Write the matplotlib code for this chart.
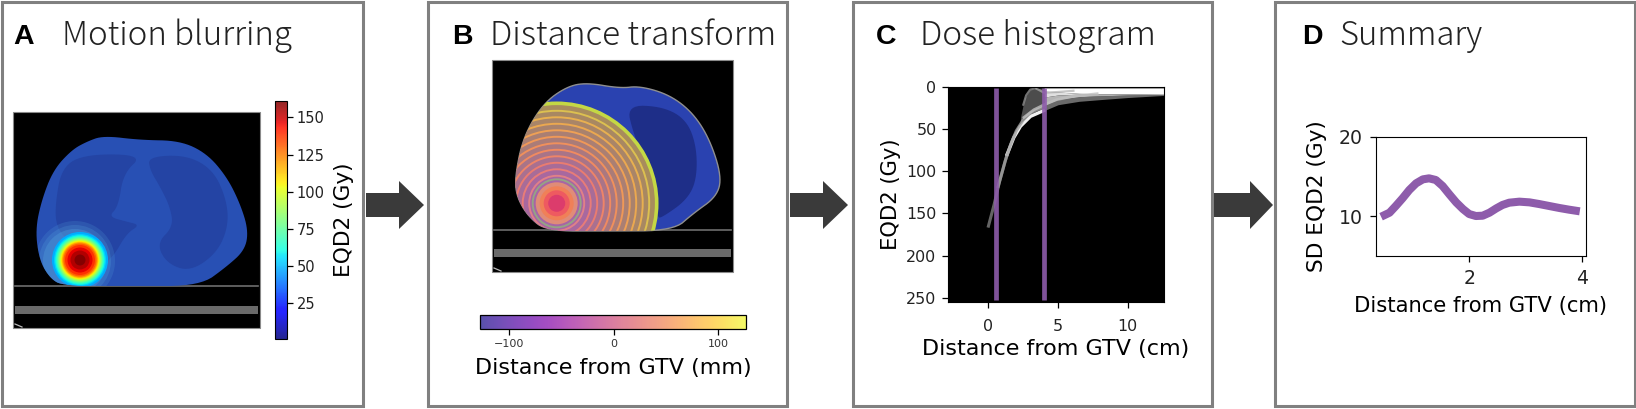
#!/usr/bin/env python3
"""Four step workflow figure: motion blurring, distance transform, dose histogram, summary"""

import numpy as np
import matplotlib
matplotlib.use('Agg')
import matplotlib.pyplot as plt
from matplotlib.patches import Polygon, Circle, Rectangle
from matplotlib.colors import Normalize, LinearSegmentedColormap
from matplotlib.cm import ScalarMappable

W, H = 1636, 409

# outlines at 3x zoom
A_BODY = [(190, 858), (150, 835), (118, 780), (106, 690), (125, 600), (160, 510), (215, 450), (260, 425), (310, 407),
          (420, 420), (540, 422), (620, 460), (680, 530), (720, 610), (745, 690), (735, 750), (680, 800), (600, 858),
          (400, 858)]
A_LUNG_L = [(165, 620), (185, 500), (260, 462), (430, 465), (370, 520), (355, 620), (325, 650), (380, 665), (420, 675),
            (380, 700), (340, 770), (300, 800), (200, 720), (170, 680)]
A_LUNG_R = [(445, 470), (560, 465), (640, 510), (680, 600), (685, 680), (650, 760), (570, 815), (500, 790), (470, 730),
            (520, 680), (510, 620), (480, 560), (450, 510)]
B_BODY = [(440, 693), (385, 650), (350, 590), (345, 530), (370, 410), (430, 310), (500, 260), (560, 248), (660, 265),
          (720, 258), (810, 285), (880, 340), (930, 420), (965, 530), (950, 590), (880, 640), (820, 692), (620, 693)]
B_LUNG = [(680, 315), (790, 320), (860, 360), (890, 440), (890, 540), (860, 600), (790, 650), (770, 655), (770, 550),
          (740, 500), (700, 400)]

# panel A hot spot
spot_dose = [48, 54, 60, 66, 74, 82, 90, 98, 106, 114, 122, 130, 138, 146, 154, 160]
spot_radius = [28, 26, 24.8, 23.8, 22.8, 21.8, 20.8, 19.8, 19, 18.2, 17.4, 16.4, 15, 12.5, 9.5, 5.5]
dose_ticks = [25, 50, 75, 100, 125, 150]

# panel B rings
ring_radius = [100, 92.5, 86, 79.5, 73, 66.5, 60, 53.5, 47, 40.5, 34, 27.5, 24]
ring_color = ['#c4d844', '#dcc050', '#e8b050', '#eba850', '#eea055', '#ef9858', '#f0905c', '#f08a60', '#ee8468',
              '#ea7c70', '#e87c78', '#e08088', '#94a484']
core_radius = [21, 17, 13, 8.5]
core_color = ['#e08c78', '#f08058', '#ee5a60', '#dc3c6c']
dist_ticks = [-100, 0, 100]

# panel C histogram, the bright band and the grey shoulder under it
band_x = [4, 5, 6.5, 8, 10, 12.6]
band_top = [1, 1, 1, 1, 1, 1]
band_low = [5, 6, 7.5, 8, 8, 8.5]
shoulder_in = [12, 9.5, 8.5, 8.5, 8.5, 8.8]
shoulder_mid = [22, 15, 11.5, 10.5, 9.5, 9.2]
shoulder_out = [28, 21, 17, 15, 12.5, 10]
wedge_x = [2.3, 2.6, 3, 3.5, 4]
wedge_top = [36, 13, 3, 1.5, 1]
wedge_low = [44, 36, 31, 27, 24]
tail_x = [0, 0.4, 0.8, 1.34]
tail_y = [165, 140, 112, 80]
lower_x = [1.34, 1.82, 2.3, 3.02, 3.96]
lower_y = [80, 60, 46.6, 34.8, 28]
inner_x = [0.7, 1.2, 1.6, 2, 2.5, 3, 3.5, 4]
inner_y = [118, 88, 68, 52, 39, 31, 27, 24]
branch_x = [2.55, 3.26, 4, 4.9, 6.1, 7.8]
branch_y = [36, 27, 21, 15, 11, 8]
fuzz_x = [2.5, 2.7, 3.0, 3.4]
fuzz_y = [21, 10, 3, 1.5]
cap_x = [3.45, 4, 4.9, 6.1]
cap_y = [2, 6.8, 6, 4.5]
beam_lines = [0.53, 4.0]
hist_xticks = [0, 5, 10]
hist_yticks = [0, 50, 100, 150, 200, 250]

# panel D curve
sd_x = [0.44, 0.59, 0.70, 0.82, 0.94, 1.06, 1.18, 1.29, 1.41, 1.53, 1.65, 1.77, 1.89, 2.00, 2.12, 2.24, 2.36, 2.48,
        2.59, 2.71, 2.89, 3.07, 3.24, 3.42, 3.60, 3.77, 3.96]
sd_y = [9.95, 10.46, 11.3, 12.27, 13.32, 14.16, 14.66, 14.79, 14.58, 13.82, 12.77, 11.76, 10.92, 10.29, 10.04, 10.08,
        10.46, 11.0, 11.43, 11.72, 11.85, 11.76, 11.55, 11.3, 11.05, 10.84, 10.63]

PURPLE = '#8e5cab'
GRAY = '#808080'
DARK = '#3a3a3a'


def px_axes(fig, x0, y0, x1, y1):
    return fig.add_axes([x0 / W, 1 - y1 / H, (x1 - x0) / W, (y1 - y0) / H])


def outline(points, dx=0, rounds=3):
    """Scale a zoomed outline to figure pixels and round its corners"""
    pts = np.array(points, dtype=float) / 3 + [dx, 0]
    for _ in range(rounds):
        nxt = np.roll(pts, -1, axis=0)
        pts = np.column_stack((0.75 * pts + 0.25 * nxt, 0.25 * pts + 0.75 * nxt)).reshape(-1, 2)
    return pts


def draw_ct(bg, x0, y0, x1, y1, table_y, band_y):
    bg.add_patch(Rectangle((x0, y0), x1 - x0, y1 - y0, fc='black', ec='#8a8a8a', lw=0.8, zorder=1))
    bg.plot([x0 + 2, x1 - 2], [table_y, table_y], color='#6e6e6e', lw=1.2, zorder=2)
    bg.add_patch(Rectangle((x0 + 2, band_y), x1 - x0 - 4, 8, fc='#6a6a6a', ec='none', zorder=2))
    bg.plot([x0 + 2, x0 + 9], [y1 - 4, y1 - 1], color='#bbbbbb', lw=0.9, zorder=2)


fig = plt.figure(figsize=(W / 100, H / 100), dpi=100)

bg = fig.add_axes([0, 0, 1, 1])
bg.set_xlim(0, W)
bg.set_ylim(H, 0)
bg.axis('off')

# frames
for x0, x1 in [(2, 362.5), (427.5, 787), (853, 1212), (1275, 1635)]:
    bg.add_patch(Rectangle((x0, 2), x1 - x0, 404, fc='white', ec=GRAY, lw=2.2))

# arrows between the panels
for x0, xb, xt in [(366, 399, 424), (790, 823, 848), (1214, 1250, 1273)]:
    bg.add_patch(Polygon([(x0, 193), (xb, 193), (xb, 181), (xt, 205), (xb, 229), (xb, 217), (x0, 217)],
                         fc=DARK, ec='none'))

# titles
title_font = dict(family=['Noto Sans CJK JP', 'DejaVu Sans'], weight='light', color='#222222', va='baseline')
label_font = dict(family='Liberation Sans', weight='bold', color='black', va='baseline', fontsize=20.5)
for letter, lx, title, tx, size in [('A', 13, 'Motion blurring', 62, 23.8), ('B', 452, 'Distance transform', 490, 24),
                                    ('C', 876, 'Dose histogram', 920, 24), ('D', 1302, 'Summary', 1339, 23.6)]:
    bg.text(lx, 44, letter, **label_font)
    bg.text(tx, 45, title, fontsize=size, **title_font)

# A: blurred dose map
draw_ct(bg, 13, 112, 260, 328, 286, 306)
jet_norm = Normalize(1, 161)
body_a = Polygon(outline(A_BODY), fc='#2850b4', ec='none', zorder=3)
bg.add_patch(body_a)
for lung in (A_LUNG_L, A_LUNG_R):
    bg.add_patch(Polygon(outline(lung), fc='#2444a4', ec='none', zorder=3))
centre_a = (80, 260)
for r, a in [(40, 0.18), (36, 0.22), (32, 0.3)]:
    halo = Circle((75, 261), r, fc='#58a8e0', ec='none', alpha=a, zorder=4)
    bg.add_patch(halo)
    halo.set_clip_path(body_a)
for dose, r in zip(spot_dose, spot_radius):
    c = Circle(centre_a, r, fc=plt.cm.jet(jet_norm(dose)), ec='none', zorder=4)
    bg.add_patch(c)
    c.set_clip_path(body_a)

cax = px_axes(fig, 275, 101, 287, 339)
sm = ScalarMappable(norm=jet_norm, cmap='jet')
cbar = fig.colorbar(sm, cax=cax, alpha=0.85)
cbar.set_ticks(dose_ticks)
cbar.ax.tick_params(labelsize=10.5, length=4, width=0.9, pad=3, labelcolor='#222222')
cbar.set_label('EQD2 (Gy)', fontsize=15.6, labelpad=7)
cbar.outline.set_linewidth(0.8)

# B: distance transform overlay
draw_ct(bg, 492, 60, 733, 272, 230, 249)
body_b = Polygon(outline(B_BODY, 400), fc='#2a42b0', ec='#8f8f8f', lw=1, zorder=3)
bg.add_patch(body_b)
bg.add_patch(Polygon(outline(B_LUNG, 400), fc='#1e2e88', ec='none', zorder=3))
centre_b = (556.7, 203.3)
ring_fill = LinearSegmentedColormap.from_list('ringfill', ['#a45cb0', '#a868a0', '#aa7c78', '#a88c5c'])
for i, r in enumerate(ring_radius):
    disk = Circle(centre_b, r, fc=ring_fill(r / ring_radius[0]), ec=ring_color[i], lw=2.6 if i == 0 else 1.4, zorder=4)
    bg.add_patch(disk)
    disk.set_clip_path(body_b)
for r, col in zip(core_radius, core_color):
    bg.add_patch(Circle(centre_b, r, fc=col, ec='none', zorder=5))

cax_b = px_axes(fig, 480, 315, 746, 329)
sm_b = ScalarMappable(norm=Normalize(-128, 127), cmap='plasma')
cbar_b = fig.colorbar(sm_b, cax=cax_b, orientation='horizontal', alpha=0.7)
cbar_b.set_ticks(dist_ticks)
cbar_b.ax.tick_params(labelsize=8, length=4, width=0.9, pad=3, labelcolor='#333333')
cbar_b.set_label('Distance from GTV (mm)', fontsize=16, labelpad=7)
cbar_b.outline.set_linewidth(0.9)

# C: dose histogram
ax_c = px_axes(fig, 948, 87, 1164, 302)
ax_c.set_facecolor('black')
ax_c.fill_between(wedge_x, wedge_top, wedge_low, color='#4c4c4c', lw=0)
ax_c.fill_between(band_x, shoulder_mid, shoulder_out, color='#6a6a6a', lw=0)
ax_c.fill_between(band_x, shoulder_in, shoulder_mid, color='#b4b4b4', lw=0)
ax_c.fill_between(band_x, band_low, shoulder_in, color='#e0e0e0', lw=0)
ax_c.fill_between(band_x, band_top, band_low, color='white', lw=0)
ax_c.plot(tail_x, tail_y, color='#909090', lw=2.2, alpha=0.7)
ax_c.plot(lower_x, lower_y, color='#f0f0f0', lw=2.4)
ax_c.plot(inner_x, inner_y, color='#a0a0a0', lw=2.2, alpha=0.8)
ax_c.plot(branch_x, branch_y, color='#c0c0c0', lw=2, alpha=0.8)
ax_c.plot(fuzz_x, fuzz_y, color='#909090', lw=1.5, alpha=0.8)
ax_c.plot(cap_x, cap_y, color='#b0b0b0', lw=1.6, alpha=0.7)
for x in beam_lines:
    ax_c.plot([x, x], [1, 253], color=PURPLE, lw=3.4, alpha=0.9, solid_capstyle='butt')
ax_c.set_xlim(-2.9, 12.6)
ax_c.set_ylim(255, 0)
ax_c.set_xticks(hist_xticks)
ax_c.set_yticks(hist_yticks)
ax_c.tick_params(labelsize=11.4, length=4.3, width=0.9, pad=8, labelcolor='#222222')
ax_c.tick_params(axis='y', pad=4)
ax_c.set_xlabel('Distance from GTV (cm)', fontsize=16, labelpad=3.5)
ax_c.set_ylabel('EQD2 (Gy)', fontsize=15.2, labelpad=4)

# D: summary curve
ax_d = px_axes(fig, 1376, 137, 1586, 256)
ax_d.plot(sd_x, sd_y, color=PURPLE, lw=5.8, solid_capstyle='butt')
ax_d.set_xlim(0.35, 4.07)
ax_d.set_ylim(5, 20)
ax_d.set_xticks([2, 4])
ax_d.set_yticks([10, 20])
ax_d.tick_params(labelsize=13.6, length=4.3, width=0.9, pad=5, labelcolor='#222222')
ax_d.set_xlabel('Distance from GTV (cm)', fontsize=15.2, labelpad=6)
ax_d.set_ylabel('SD EQD2 (Gy)', fontsize=15.6, labelpad=9)

fig.savefig('out.png', dpi=100)
